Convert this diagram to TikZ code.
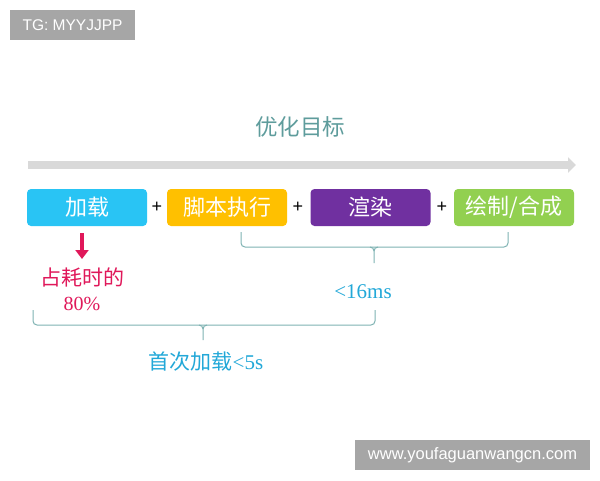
\documentclass[tikz,border=0pt]{standalone}
\usepackage{fontspec}
\setmainfont{Liberation Serif}
\newfontfamily\cjk{Noto Sans CJK SC}
\newfontfamily\lsans{Liberation Sans}
\usetikzlibrary{arrows.meta}
\definecolor{cBlue}{HTML}{29C4F4}
\definecolor{cGold}{HTML}{FFC000}
\definecolor{cPurple}{HTML}{7030A0}
\definecolor{cGreen}{HTML}{92D050}
\definecolor{cTeal}{HTML}{5E9C9C}
\definecolor{cBrace}{HTML}{7FB3B3}
\definecolor{cCyan}{HTML}{22A8D8}
\definecolor{cRed}{HTML}{E0185A}
\definecolor{cBadge}{HTML}{A6A6A6}
\definecolor{cBar}{HTML}{D9D9D9}
\begin{document}
\begin{tikzpicture}[x=1pt,y=-1pt,
  stagebox/.style={rounded corners=4pt, minimum width=120pt, minimum height=37pt, inner sep=0pt, text=white, font=\cjk\fontsize{22}{24}\selectfont},
  plus/.style={font=\lsans\fontsize{18}{20}\selectfont, inner sep=0pt},
  badge/.style={fill=cBadge, text=white, inner sep=0pt, font=\lsans\fontsize{15.5}{17}\selectfont},
  bracestyle/.style={draw=cBrace, line width=1pt, rounded corners=4pt}
]
\useasboundingbox (0,0) rectangle (600,480);
\fill[white] (0,0) rectangle (600,480);
% badges
\node[badge, minimum width=125pt, minimum height=30pt] (tg) at (72.5,25) {TG: MYYJJPP};
\node[badge, minimum width=235pt, minimum height=30pt, font=\lsans\fontsize{16.5}{18}\selectfont] (web) at (472.5,455) {www.youfaguanwangcn.com};
% title
\node[text=cTeal, font=\cjk\fontsize{22.5}{26}\selectfont] (title) at (300,127) {优化目标};
% gray arrow bar
\coordinate (barL) at (28,165);
\coordinate (barR) at (576,165);
\draw[cBar, line width=8pt, -{Triangle[length=8pt,width=15pt]}] (barL) -- (barR);
% stages
\node[stagebox, fill=cBlue] (load) at (87,207.5) {加载};
\node[stagebox, fill=cGold] (script) at (227,207.5) {脚本执行};
\node[stagebox, fill=cPurple] (render) at (370.5,207.5) {渲染};
\node[stagebox, fill=cGreen] (paint) at (514,207.5) {绘制/合成};
\node[plus] (p1) at (157,207) {+};
\node[plus] (p2) at (298,207) {+};
\node[plus] (p3) at (442,207) {+};
% brace 1
\coordinate (b1L) at (241,232);
\coordinate (b1R) at (508,232);
\coordinate (b1T) at (374,263);
\draw[bracestyle] (b1L) -- (241,247) -- (508,247) -- (b1R);
\draw[draw=cBrace, line width=1pt] (b1T) -- (374,251) to[out=90,in=0] (370,247);
\draw[draw=cBrace, line width=1pt] (374,251) to[out=90,in=180] (378,247);
\node[text=cCyan, font=\fontsize{21}{24}\selectfont] (ms) at (363,292) {<16ms};
% red arrow
\coordinate (raTop) at (82,233);
\draw[cRed, line width=4.5pt, -{Triangle[length=9pt,width=13pt]}] (raTop) -- (82,259);
\node[text=cRed, font=\cjk\fontsize{21}{24}\selectfont] (pct1) at (82,277) {占耗时的};
\node[text=cRed, font=\fontsize{20}{22}\selectfont] (pct2) at (82,304) {80\%};
% brace 2
\coordinate (b2L) at (33,310);
\coordinate (b2R) at (375,310);
\coordinate (b2T) at (203,340);
\draw[bracestyle] (b2L) -- (33,325) -- (375,325) -- (b2R);
\draw[draw=cBrace, line width=1pt] (b2T) -- (203,329) to[out=90,in=0] (199,325);
\draw[draw=cBrace, line width=1pt] (203,329) to[out=90,in=180] (207,325);
\node[text=cCyan, font=\fontsize{21}{24}\selectfont] (first) at (206,362) {{\cjk 首次加载}<5s};
\end{tikzpicture}
\end{document}
